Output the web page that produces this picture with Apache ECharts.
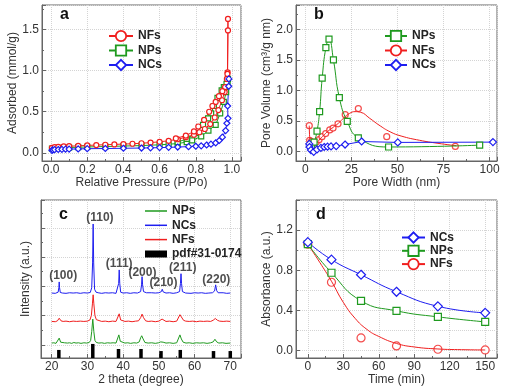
<!DOCTYPE html>
<html><head><meta charset="utf-8">
<script src="https://cdn.jsdelivr.net/npm/echarts@6/dist/echarts.min.js"></script>
<style>html,body{margin:0;padding:0;background:#fff}#c{width:512px;height:387px}</style>
</head><body><div id="c"></div>
<script>
// ---------- panel a : N2 isotherms [P/Po, mmol/g] ----------
const isoNFs = [[0.005,0.06],[0.02,0.068],[0.04,0.072],[0.07,0.077],[0.1,0.08],[0.15,0.085],[0.2,0.09],[0.25,0.094],[0.3,0.098],[0.35,0.102],[0.4,0.106],[0.45,0.11],[0.5,0.116],[0.55,0.124],[0.6,0.134],[0.65,0.146],[0.7,0.165],[0.745,0.19],[0.79,0.22],[0.82,0.25],[0.85,0.29],[0.88,0.35],[0.905,0.43],[0.925,0.52],[0.945,0.64],[0.96,0.74],[0.972,0.9],[0.976,0.98],[0.978,1.49],[0.978,1.63],[0.975,0.96],[0.962,0.8],[0.947,0.75],[0.928,0.69],[0.91,0.62],[0.892,0.57],[0.874,0.5],[0.846,0.4],[0.814,0.32],[0.79,0.26],[0.745,0.21],[0.69,0.175]];
const isoNPs = [[0.005,0.05],[0.02,0.056],[0.05,0.06],[0.1,0.064],[0.15,0.068],[0.2,0.071],[0.3,0.076],[0.4,0.082],[0.5,0.088],[0.6,0.097],[0.65,0.104],[0.7,0.113],[0.75,0.13],[0.78,0.15],[0.83,0.2],[0.87,0.27],[0.91,0.34],[0.935,0.48],[0.955,0.62],[0.968,0.74],[0.976,0.85],[0.978,0.9],[0.97,0.84],[0.955,0.8],[0.943,0.76],[0.92,0.67],[0.9,0.57],[0.885,0.48],[0.868,0.42],[0.84,0.34],[0.8,0.24],[0.75,0.17],[0.7,0.13]];
const isoNCs = [[0.005,0.03],[0.01,0.035],[0.02,0.038],[0.04,0.04],[0.06,0.042],[0.08,0.044],[0.1,0.045],[0.15,0.047],[0.2,0.05],[0.3,0.052],[0.4,0.055],[0.5,0.058],[0.55,0.06],[0.6,0.063],[0.65,0.066],[0.7,0.07],[0.76,0.075],[0.8,0.08],[0.83,0.085],[0.86,0.095],[0.884,0.105],[0.91,0.12],[0.93,0.15],[0.947,0.19],[0.965,0.27],[0.972,0.36],[0.978,0.42],[0.976,0.57],[0.982,0.81],[0.983,0.9]];

// ---------- panel b : pore size distribution [nm, cm3/g nm] ----------
const poreNPs = [[3.5,0.08],[4.8,0.15],[6.4,0.33],[7.8,0.65],[9.2,1.2],[11.2,1.7],[12.9,1.84],[15.3,1.5],[18.5,0.88],[22.8,0.49],[28.8,0.22],[45.2,0.07],[94.6,0.1]];
const poreNFs = [[2.2,0.42],[2.4,0.18],[3.3,0.16],[4.5,0.07],[6,0.15],[7.5,0.19],[9.1,0.24],[11.1,0.29],[13.3,0.35],[15.1,0.38],[17.8,0.45],[21.7,0.6],[28.8,0.7],[44.2,0.24],[81.4,0.08]];
const poreNFsFit = [[2.2,0.42],[2.5,0.2],[4,0.13],[6,0.14],[8,0.2],[10,0.26],[12,0.32],[15,0.39],[18,0.46],[21,0.55],[24,0.62],[27,0.65],[30,0.64],[35,0.54],[40,0.43],[46,0.32],[52,0.25],[62,0.18],[72,0.13],[82,0.09]];
const poreNCs = [[2.2,0.12],[2.3,0.07],[3.1,0.02],[4.6,-0.01],[6.4,0.03],[8.5,0.055],[10.3,0.07],[12.1,0.075],[14,0.08],[16.8,0.085],[21.6,0.11],[30.6,0.16],[50.2,0.145],[101.8,0.15]];

// ---------- panel c : XRD [2theta, intensity a.u.] ----------
const xrdNCs = [[20,1.77],[20.5,1.78],[21,1.76],[21.5,1.78],[21.8,1.8],[22.0,1.95],[22.1,2.15],[22.2,1.95],[22.4,1.79],[23,1.77],[23.5,1.78],[24,1.76],[25,1.78],[26,1.77],[27,1.78],[28,1.76],[29,1.78],[30,1.77],[30.8,1.79],[31.2,1.95],[31.45,2.8],[31.6,4.13],[31.75,2.8],[32.0,1.9],[32.4,1.8],[33,1.78],[34,1.76],[35,1.78],[36,1.77],[37,1.78],[38,1.76],[38.5,1.8],[38.75,2.1],[38.9,2.56],[39.05,2.1],[39.3,1.8],[40,1.77],[41,1.78],[42,1.76],[43,1.78],[44,1.77],[44.9,1.82],[45.15,2.05],[45.3,2.33],[45.45,2.05],[45.7,1.82],[46.5,1.78],[47,1.76],[48,1.78],[49,1.77],[50,1.78],[50.7,1.82],[50.95,1.9],[51.2,1.81],[52,1.77],[53,1.78],[54,1.76],[55,1.78],[55.8,1.82],[56.05,2.1],[56.2,2.43],[56.35,2.1],[56.6,1.82],[57.5,1.77],[58,1.78],[59,1.76],[60,1.78],[61,1.77],[62,1.78],[63,1.76],[64,1.77],[65,1.78],[65.6,1.84],[65.9,2.05],[66.2,1.85],[66.6,1.78],[67,1.77],[68,1.78],[69,1.76],[70,1.77]];
const xrdNFs = [[20,0.8],[20.5,0.81],[21,0.79],[21.6,0.82],[22.1,0.91],[22.6,0.82],[23.2,0.8],[24,0.81],[25,0.79],[26,0.81],[27,0.8],[28,0.81],[29,0.8],[30,0.81],[30.7,0.85],[31.1,1.0],[31.4,1.4],[31.6,1.71],[31.8,1.4],[32.1,1.0],[32.5,0.86],[33,0.81],[34,0.8],[35,0.81],[36,0.79],[37,0.81],[38,0.8],[38.5,0.85],[38.9,1.06],[39.3,0.85],[39.8,0.81],[40.5,0.8],[41.5,0.81],[42.5,0.79],[43.5,0.81],[44.3,0.82],[44.9,0.93],[45.3,1.05],[45.7,0.93],[46.3,0.82],[47,0.8],[48,0.81],[49,0.79],[50,0.81],[50.5,0.83],[50.9,0.88],[51.3,0.83],[52,0.8],[53,0.81],[54,0.79],[55,0.81],[55.5,0.86],[55.9,1.03],[56.1,1.06],[56.4,0.98],[56.9,0.84],[57.5,0.81],[58.5,0.8],[59.5,0.81],[60.5,0.79],[61.5,0.81],[62.5,0.8],[63.5,0.81],[64.5,0.8],[65.2,0.84],[65.8,0.9],[66.4,0.84],[67,0.81],[68,0.8],[69,0.81],[70,0.8]];
const xrdNPs = [[20,0.06],[20.6,0.07],[21.2,0.05],[21.7,0.09],[22.1,0.23],[22.5,0.09],[23,0.06],[23.6,0.07],[24,0.1],[24.4,0.06],[25,0.07],[25.6,0.05],[26.2,0.08],[26.8,0.06],[27.5,0.07],[28.2,0.05],[29,0.07],[29.8,0.06],[30.5,0.08],[30.9,0.15],[31.2,0.45],[31.5,0.88],[31.8,0.45],[32.1,0.15],[32.5,0.08],[33.2,0.06],[34,0.07],[34.8,0.05],[35.6,0.07],[36.4,0.06],[37.2,0.07],[38,0.06],[38.4,0.1],[38.8,0.34],[39.2,0.12],[39.7,0.07],[40.5,0.06],[41.3,0.07],[42.1,0.05],[43,0.07],[43.8,0.06],[44.5,0.1],[44.9,0.24],[45.2,0.31],[45.6,0.2],[46.1,0.08],[47,0.06],[48,0.07],[49,0.05],[49.9,0.07],[50.5,0.1],[50.8,0.15],[51.2,0.09],[52,0.06],[53,0.07],[54,0.05],[55,0.07],[55.5,0.12],[55.9,0.34],[56.3,0.2],[56.8,0.09],[57.6,0.06],[58.5,0.07],[59.5,0.05],[60.5,0.07],[61.5,0.06],[62.5,0.07],[63.5,0.05],[64.5,0.07],[65.2,0.1],[65.7,0.19],[66.2,0.1],[66.8,0.06],[67.8,0.07],[68.8,0.05],[70,0.06]];
const pdfPos = [22.0,31.5,38.7,45.0,50.6,56.0,65.3,70.0];
const pdfInt = [5.1,8.9,5.7,5.7,4.4,5.1,4.4,4.4];
const xrdLabels = [['(100)',23.2,2.36],['(110)',33.5,4.33],['(111)',38.9,2.76],['(200)',45.4,2.45],['(210)',51.3,2.11],['(211)',56.7,2.64],['(220)',66.1,2.22]];

// ---------- panel d : absorbance vs time ----------
const timeMin = [0,20,45,75,110,150];
const absNCs = [1.08,0.905,0.755,0.585,0.44,0.375];
const absNPs = [1.06,0.775,0.495,0.395,0.335,0.285];
const absNFs = [1.06,0.68,0.125,0.045,0.012,0.005];
const fitTime = [0,10,20,30,40,50,60,75,90,110,130,150];
const fitNFs = [1.06,0.88,0.69,0.48,0.32,0.21,0.14,0.07,0.035,0.015,0.008,0.005];

const RED='#f01e1e', GREEN='#1f9a1f', BLUE='#1e1ef0', FRAME='#666', FONT='Liberation Sans, Arial, sans-serif';
const zip = (xs, ys) => xs.map((x,i)=>[x, ys[i]]);

function ax(o) {
  const base = {
    type:'value', silent:true,
    axisLine:{show:true, onZero:false, lineStyle:{color:FRAME}},
    axisTick:{show:true, inside:true, length:4, lineStyle:{color:FRAME}},
    minorTick:{show:true, splitNumber:2, length:2, lineStyle:{color:FRAME}},
    splitLine:{show:true, lineStyle:{color:'#d4d4d4', type:'dotted'}},
    minorSplitLine:{show:false, lineStyle:{color:'#d4d4d4', type:'dotted'}},
    axisLabel:{color:'#333', fontSize:12, margin:3, showMinLabel:false, showMaxLabel:false, fontFamily:FONT},
    nameLocation:'middle',
    nameTextStyle:{color:'#333', fontSize:12, fontFamily:FONT}
  };
  const r = Object.assign({}, base, o);
  if (o.axisLabel) r.axisLabel = Object.assign({}, base.axisLabel, o.axisLabel);
  if (o.minorSplitLine) r.minorSplitLine = Object.assign({}, base.minorSplitLine, o.minorSplitLine);
  return r;
}
const f1 = v => v.toFixed(1), f0 = v => String(Math.round(v));

function sym(color, shape, size) {
  return {symbol:shape, symbolSize:size, showSymbol:true,
    itemStyle:{color:'#fff', borderColor:color, borderWidth:1.2},
    lineStyle:{color:color, width:1}};
}
function leg(names, left, top, iw, ih, lh, gap, extra) {
  return Object.assign({
    orient:'vertical', left:left, top:top, padding:0, itemWidth:iw, itemHeight:ih, itemGap:gap,
    selectedMode:false, data:names, formatter: n => n.split(':')[1],
    itemStyle:{borderWidth:1.8},
    textStyle:{fontSize:12, fontWeight:'bold', color:'#222', fontFamily:FONT, lineHeight:lh}
  }, extra || {});
}

const grids = [
  {left:42, top:5, width:199, height:156},
  {left:296, top:5, width:201, height:156},
  {left:41, top:200, width:200, height:158},
  {left:296, top:200, width:201, height:158}
].map(g => Object.assign(g, {show:true, borderColor:FRAME, borderWidth:1, backgroundColor:'transparent'}));

const option = {
  animation:false,
  backgroundColor:'#fff',
  textStyle:{fontFamily:FONT},
  title:[
    {text:'a', left:60, top:7, padding:0, textStyle:{fontSize:16, fontWeight:'bold', color:'#111', fontFamily:FONT}},
    {text:'b', left:314, top:7, padding:0, textStyle:{fontSize:16, fontWeight:'bold', color:'#111', fontFamily:FONT}},
    {text:'c', left:59, top:207, padding:0, textStyle:{fontSize:16, fontWeight:'bold', color:'#111', fontFamily:FONT}},
    {text:'d', left:316, top:207, padding:0, textStyle:{fontSize:16, fontWeight:'bold', color:'#111', fontFamily:FONT}}
  ],
  grid: grids,
  xAxis:[
    ax({gridIndex:0, min:-0.05, max:1.05, minInterval:0.2, maxInterval:0.2, axisLabel:{formatter:f1}, name:'Relative Pressure (P/Po)', nameGap:12}),
    ax({gridIndex:1, min:-5, max:104, minInterval:25, maxInterval:25, axisLabel:{formatter:f0}, name:'Pore Width (nm)', nameGap:12}),
    ax({gridIndex:2, min:17, max:73, minInterval:10, maxInterval:10, axisLabel:{formatter:f0}, name:'2 theta (degree)', nameGap:13}),
    ax({gridIndex:3, min:-10, max:160, minInterval:30, maxInterval:30, axisLabel:{formatter:f0}, name:'Time (min)', nameGap:13})
  ],
  yAxis:[
    ax({gridIndex:0, min:-0.1, max:1.8, minInterval:0.5, maxInterval:0.5, axisLabel:{formatter:f1}, name:'Adsorbed (mmol/g)', nameGap:22}),
    ax({gridIndex:1, min:-0.16, max:2.4, minInterval:0.5, maxInterval:0.5, axisLabel:{formatter:f1}, name:'Pore Volume (cm³/g nm)', nameGap:18}),
    ax({gridIndex:2, min:-0.45, max:4.95, minInterval:1, maxInterval:1, axisLabel:{show:false}, name:'Intensity (a.u.)', nameGap:9}),
    {type:'value', gridIndex:2, min:0, max:100, show:false, splitLine:{show:false}},
    ax({gridIndex:3, min:-0.075, max:1.5, minInterval:0.4, maxInterval:0.4, axisLabel:{formatter:f1}, name:'Absorbance (a.u.)', nameGap:18, minorSplitLine:{show:true}})
  ],
  legend:[
    leg(['a:NFs','a:NPs','a:NCs'], 108, 29, 24, 13, 14, 0.5),
    leg(['b:NPs','b:NFs','b:NCs'], 384, 29, 22, 13, 14, 0.5),
    leg([{name:'c:NPs',icon:'rect'},{name:'c:NCs',icon:'rect'},{name:'c:NFs',icon:'rect'}], 145, 204, 22, 1.5, 14, 0.3),
    leg([{name:'c:pdf#31-0174',icon:'rect'}], 145, 247, 22, 7, 14, 0),
    leg(['d:NCs','d:NPs','d:NFs'], 401, 231, 23, 13, 13, 0.3)
  ],
  series:[
    // panel a
    Object.assign({type:'line', name:'a:NPs', xAxisIndex:0, yAxisIndex:0, data:isoNPs}, sym(GREEN,'rect',5)),
    Object.assign({type:'line', name:'a:NFs', xAxisIndex:0, yAxisIndex:0, data:isoNFs}, sym(RED,'circle',5)),
    Object.assign({type:'line', name:'a:NCs', xAxisIndex:0, yAxisIndex:0, data:isoNCs}, sym(BLUE,'diamond',6)),
    // panel b
    Object.assign({type:'line', name:'b:NFs', xAxisIndex:1, yAxisIndex:1, data:poreNFsFit, smooth:true}, sym(RED,'circle',6), {showSymbol:false}),
    Object.assign({type:'scatter', name:'b:NFs pts', xAxisIndex:1, yAxisIndex:1, data:poreNFs}, sym(RED,'circle',6)),
    Object.assign({type:'line', name:'b:NPs', xAxisIndex:1, yAxisIndex:1, data:poreNPs, smooth:true}, sym(GREEN,'rect',6)),
    Object.assign({type:'line', name:'b:NCs', xAxisIndex:1, yAxisIndex:1, data:poreNCs}, sym(BLUE,'diamond',7)),
    // panel c
    {type:'line', name:'c:NPs', xAxisIndex:2, yAxisIndex:2, data:xrdNPs, symbol:'none', color:GREEN, itemStyle:{color:GREEN}, lineStyle:{color:GREEN, width:1}},
    {type:'line', name:'c:NFs', xAxisIndex:2, yAxisIndex:2, data:xrdNFs, symbol:'none', color:RED, itemStyle:{color:RED}, lineStyle:{color:RED, width:1}},
    {type:'line', name:'c:NCs', xAxisIndex:2, yAxisIndex:2, data:xrdNCs, symbol:'none', color:BLUE, itemStyle:{color:BLUE}, lineStyle:{color:BLUE, width:1}},
    {type:'bar', name:'c:pdf#31-0174', xAxisIndex:2, yAxisIndex:3, data:zip(pdfPos, pdfInt), barWidth:3.5, color:'#000', itemStyle:{color:'#000'}},
    {type:'scatter', name:'c:labels', xAxisIndex:2, yAxisIndex:2, symbolSize:1, itemStyle:{color:'rgba(0,0,0,0)'},
      data: xrdLabels.map(l => ({name:l[0], value:[l[1], l[2]]})),
      label:{show:true, position:'inside', formatter:'{b}', fontSize:12, fontWeight:'bold', color:'#222', fontFamily:FONT}},
    // panel d
    Object.assign({type:'line', name:'d:NFs', xAxisIndex:3, yAxisIndex:4, data:zip(fitTime, fitNFs), smooth:true}, sym(RED,'circle',8), {showSymbol:false}),
    Object.assign({type:'scatter', name:'d:NFs pts', xAxisIndex:3, yAxisIndex:4, data:zip(timeMin, absNFs)}, sym(RED,'circle',8)),
    Object.assign({type:'line', name:'d:NPs', xAxisIndex:3, yAxisIndex:4, data:zip(timeMin, absNPs), smooth:true}, sym(GREEN,'rect',7)),
    Object.assign({type:'line', name:'d:NCs', xAxisIndex:3, yAxisIndex:4, data:zip(timeMin, absNCs), smooth:true}, sym(BLUE,'diamond',9))
  ]
};
const chart = echarts.init(document.getElementById('c'), null, {renderer:'canvas'});
chart.setOption(option);
</script></body></html>
